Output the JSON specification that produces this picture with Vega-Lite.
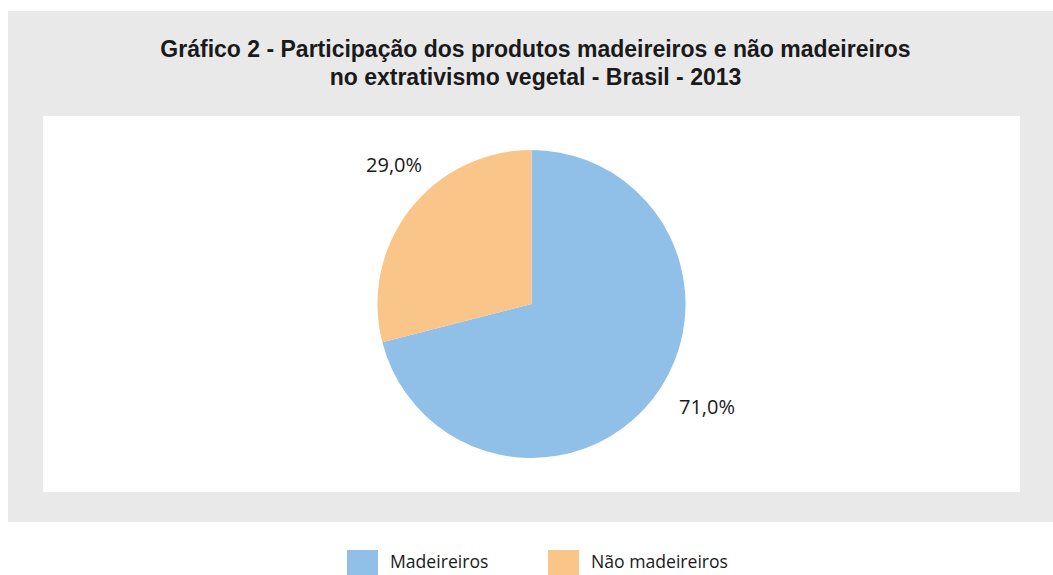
{
  "$schema": "https://vega.github.io/schema/vega-lite/v6.json",
  "background": "#ffffff",
  "padding": {"left": 8, "top": 11, "right": 0, "bottom": 0},
  "spacing": 0,
  "config": {
    "view": {"stroke": null},
    "concat": {"spacing": 0},
    "text": {"font": "Open Sans", "color": "#1a1a1a"}
  },
  "datasets": {
    "participacao": [
      {"categoria": "Madeireiros", "percentual": 71.0, "rotulo": "71,0%"},
      {"categoria": "Não madeireiros", "percentual": 29.0, "rotulo": "29,0%"}
    ],
    "titulo": [
      {"texto": "Gráfico 2 - Participação dos produtos madeireiros e não madeireiros\nno extrativismo vegetal - Brasil - 2013"}
    ]
  },
  "vconcat": [
    {
      "width": 1045,
      "height": 105,
      "view": {"fill": "#e9e9e9", "stroke": null},
      "data": {"name": "titulo"},
      "mark": {
        "type": "text",
        "font": "Liberation Sans",
        "fontWeight": "bold",
        "fontSize": 23,
        "lineHeight": 28,
        "lineBreak": "\n",
        "align": "center",
        "baseline": "middle",
        "dx": 5,
        "dy": -14,
        "color": "#1a1a1a"
      },
      "encoding": {"text": {"field": "texto", "type": "nominal"}}
    },
    {
      "spacing": 0,
      "hconcat": [
        {
          "width": 35,
          "height": 376,
          "view": {"fill": "#e9e9e9", "stroke": null},
          "data": {"values": []},
          "mark": {"type": "point", "opacity": 0},
          "encoding": {}
        },
        {
          "width": 977,
          "height": 376,
          "view": {"fill": "#ffffff", "stroke": null},
          "data": {"name": "participacao"},
          "encoding": {
            "theta": {"field": "percentual", "type": "quantitative", "stack": true},
            "order": {"field": "percentual", "type": "quantitative", "sort": "descending"}
          },
          "layer": [
            {
              "mark": {"type": "arc", "outerRadius": 154, "stroke": null},
              "encoding": {
                "color": {
                  "field": "categoria",
                  "type": "nominal",
                  "scale": {
                    "domain": ["Madeireiros", "Não madeireiros"],
                    "range": ["#90c0e8", "#f9c589"]
                  },
                  "legend": {
                    "title": null,
                    "orient": "none",
                    "direction": "horizontal",
                    "legendX": 342,
                    "legendY": 539,
                    "padding": 0,
                    "symbolType": "M-1.24,-1H1.24V1H-1.24Z",
                    "symbolSize": 625,
                    "symbolStrokeWidth": 0,
                    "symbolOpacity": 1,
                    "labelFont": "Open Sans",
                    "labelFontSize": 17.6,
                    "labelColor": "#1a1a1a",
                    "labelOffset": 15,
                    "columnPadding": 59,
                    "labelLimit": 300
                  }
                }
              }
            },
            {
              "mark": {"type": "text", "radius": 198, "dx": 19, "dy": -17, "fontSize": 20, "font": "Open Sans", "color": "#1a1a1a"},
              "encoding": {"text": {"field": "rotulo", "type": "nominal"}}
            }
          ]
        },
        {
          "width": 33,
          "height": 376,
          "view": {"fill": "#e9e9e9", "stroke": null},
          "data": {"values": []},
          "mark": {"type": "point", "opacity": 0},
          "encoding": {}
        }
      ]
    },
    {
      "width": 1045,
      "height": 30,
      "view": {"fill": "#e9e9e9", "stroke": null},
      "data": {"values": []},
      "mark": {"type": "point", "opacity": 0},
      "encoding": {}
    }
  ]
}
